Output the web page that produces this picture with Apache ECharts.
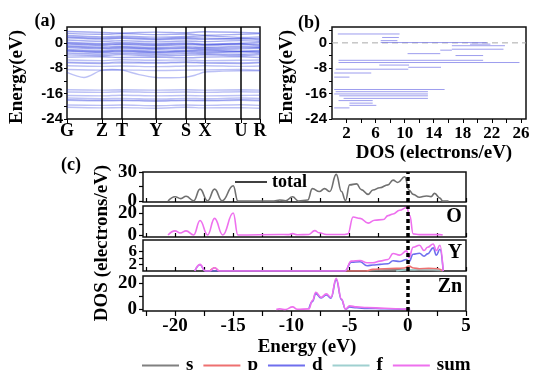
<!DOCTYPE html>
<html>
<head>
<meta charset="utf-8">
<script src="https://cdn.jsdelivr.net/npm/echarts@6/dist/echarts.min.js"></script>
<style>html,body{margin:0;padding:0;background:#fff}#chart{width:534px;height:370px}</style>
</head>
<body>
<div id="chart"></div>
<script>
var serif = 'Liberation Serif';
var sans = 'Liberation Sans';

// (a) band structure, energies at the high symmetry points
var kLabels = ['G', 'Z', 'T', 'Y', 'S', 'X', 'U', 'R'];
var kPos = [0, 35, 55, 89, 119, 138, 174, 193];
var kFine = [0, 17, 35, 45, 55, 72, 89, 104, 119, 128, 138, 156, 174, 183, 193];
var bands = [
  [3.6, 3.3, 3.1, 3.4, 3.2, 3.5, 3.3, 3.1],
  [3.0, 2.7, 2.9, 2.6, 2.8, 2.4, 2.7, 2.9],
  [2.3, 1.9, 2.1, 1.8, 2.0, 2.2, 1.7, 1.9],
  [1.6, 1.2, 1.4, 1.0, 1.3, 1.1, 1.4, 1.0],
  [0.9, 0.5, 0.7, 0.3, 0.6, 0.4, 0.7, 0.5],
  [0.2, -0.2, 0.1, -0.3, 0.0, -0.4, -0.1, 0.1],
  [-0.4, -0.8, -0.5, -0.9, -0.6, -0.7, -0.5, -0.9],
  [-0.9, -1.3, -1.1, -1.5, -1.2, -1.4, -1.1, -1.3],
  [-1.5, -1.9, -1.7, -2.0, -1.8, -2.1, -1.9, -1.7],
  [-2.1, -2.5, -2.2, -2.6, -2.4, -2.3, -2.6, -2.4],
  [-2.6, -3.0, -2.8, -3.1, -2.9, -3.1, -2.8, -3.0],
  [-3.2, -3.5, -3.3, -3.6, -3.4, -3.5, -3.6, -3.3],
  [-3.8, -4.0, -3.7, -4.1, -3.9, -3.8, -4.0, -3.7],
  [-4.5, -4.4, -4.6, -4.5, -4.7, -4.5, -4.4, -4.6],
  [-5.4, -5.6, -5.3, -5.5, -5.4, -5.6, -5.5, -5.4],
  [-6.3, -6.5, -6.3, -6.4, -6.2, -6.4, -6.5, -6.3],
  [-7.2, -7.4, -7.3, -7.5, -7.3, -7.2, -7.4, -7.3],
  [-8.4, -8.6, -8.5, -8.7, -8.6, -8.5, -8.4, -8.6],
  [-14.8, -14.9, -14.8, -14.9, -14.8, -14.9, -14.8, -14.9],
  [-15.5, -15.6, -15.4, -15.6, -15.5, -15.6, -15.4, -15.5],
  [-16.6, -16.7, -16.5, -16.7, -16.6, -16.7, -16.6, -16.5],
  [-17.4, -17.6, -17.5, -17.7, -17.5, -17.6, -17.4, -17.5],
  [-18.1, -18.3, -18.2, -18.4, -18.2, -18.3, -18.1, -18.3],
  [-19.6, -19.7, -19.6, -19.8, -19.6, -19.7, -19.5, -19.7],
  [-20.3, -20.5, -20.4, -20.6, -20.3, -20.5, -20.4, -20.6]
];
var bandsDense = [
  [1.9, 1.5, 1.7, 1.3, 1.6, 1.5, 1.2, 1.4],
  [-0.1, -0.5, -0.3, -0.6, -0.3, -0.6, -0.3, -0.5],
  [-1.2, -1.6, -1.4, -1.8, -1.5, -1.7, -1.5, -1.5],
  [-2.4, -2.8, -2.5, -2.9, -2.6, -2.7, -2.7, -2.7],
  [-6.1, -6.3, -6.0, -6.2, -6.0, -6.2, -6.3, -6.1],
  [-17.9, -18.1, -18.0, -18.2, -18.0, -18.1, -17.9, -18.0]
];
var bandsCurved = [
  [-9.3, -10.9, -8.6, -8.4, -8.6, -10.0, -10.9, -11.0, -10.8, -10.2, -9.2, -8.9, -8.8, -8.8, -8.8]
];

// (b) total DOS, drawn as horizontal strokes
var dosEnergy = [2.8, 1.7, 0.7, 0.1, -0.4, -0.9, -2.0, -2.3, -3.4, -4.0, -5.5, -6.2, -7.0, -7.7, -8.3, -9.5, -10.8, -14.7, -15.4, -16.1, -16.7, -17.5, -18.2, -19.0, -19.7, -20.5];
var dosFrom = [0.8, 6.9, 6.7, 6.7, 19.0, 16.5, 16.5, 14.9, 10.4, 17.0, 0.9, 0.9, 6.5, 10.5, 0.5, 0.3, 0.3, 0.3, 0.5, 0.3, 1.0, 1.6, 0.9, 2.4, 2.4, 0.3];
var dosTo = [9.3, 9.2, 9.0, 21.3, 21.8, 23.8, 23.6, 16.5, 14.9, 20.8, 20.8, 25.8, 10.6, 15.0, 10.5, 5.4, 2.4, 15.5, 13.2, 13.2, 13.2, 13.2, 5.6, 5.6, 6.1, 2.4];

// (c) partial DOS
var totalE = [-20.6, -20.0, -19.5, -19.05, -18.4, -17.85, -17.2, -16.6, -15.95, -15.0, -14.6, -11.5, -11.0, -10.5, -9.9, -9.4, -8.6, -8.2, -7.6, -7.15, -6.7, -6.15, -5.7, -5.35, -5.0, -4.4, -4.0, -3.4, -3.0, -2.4, -1.7, -1.27, -0.86, -0.26, 0.1, 0.46, 1.0, 1.6, 2.0, 2.3, 2.76, 3.0, 3.5];
var totalV = [0, 4.5, 2.5, 5, 0.3, 12.5, 0.2, 12.5, 0.2, 16, 0, 0, 1.0, 0.3, 4.5, 0, 1, 13, 10, 13, 10, 28, 10, 0.5, 17, 18, 12, 7, 11.5, 14, 17, 22, 19.5, 25.5, 11.5, 7, 4, 5.3, 4.6, 8, 3, 0, 0];

var oSumE = [-20.6, -20.0, -19.55, -19.05, -18.4, -17.85, -17.2, -16.6, -15.9, -15.0, -14.6, -11.0, -10.3, -9.9, -9.5, -8.5, -8.0, -7.6, -7.0, -5.5, -5.15, -4.7, -4.1, -3.4, -2.85, -2.1, -1.7, -1.27, -0.7, -0.1, 0.17, 0.46, 1.0, 2.76, 3.0];
var oSumV = [0, 3.8, 1.8, 3.8, 0, 13.5, 0, 15.5, 0, 20.5, 0, 0.5, 0.3, 1.2, 0.2, 0.5, 4, 2, 0.5, 0.5, 1, 16.8, 15.5, 11, 13.7, 14.4, 18, 19.6, 23, 25.6, 18, 1, 0.3, 0.3, 0];

var ySumE = [-18.3, -17.85, -17.4, -17.0, -16.6, -16.2, -5.4, -4.85, -4.1, -3.5, -3.0, -2.4, -1.7, -1.27, -0.7, -0.1, 0.1, 0.46, 1.0, 1.4, 1.7, 2.18, 2.45, 2.76, 3.04];
var ySumV = [0, 2.0, 0, 0, 1.0, 0, 0, 3.0, 3.2, 2.5, 2.5, 3.0, 3.5, 5.3, 4.8, 6.1, 4.0, 7.2, 7.8, 6.2, 7.2, 8.2, 6.2, 7.8, 0];
var yDE = [-18.3, -17.85, -17.4, -5.4, -4.85, -4.1, -3.5, -3.0, -2.4, -1.7, -1.27, -0.7, -0.1, 0.1, 0.46, 1.0, 1.4, 1.7, 2.18, 2.45, 2.76, 3.04];
var yDV = [0, 1.9, 0, 0, 2.7, 2.8, 1.6, 1.8, 2.0, 2.2, 3.1, 2.9, 3.5, 2.8, 5.1, 5.4, 4.5, 5.2, 7.0, 4.8, 6.6, 0];
var yPE = [-17.0, -16.6, -16.2, -3.6, -3.0, -2.0, -1.0, -0.3, 0.1, 0.5, 1.0, 1.8, 2.6, 3.0];
var yPV = [0, 1.0, 0, 0, 0.5, 0.7, 0.8, 0.9, 1.5, 0.9, 0.7, 0.8, 0.7, 0];
var ySE = [-3.5, -2.0, 0.0, 1.0, 3.0];
var ySV = [0, 0.3, 0.4, 0.3, 0];
var yFE = [-1.0, 0.3, 1.5, 2.8, 3.0];
var yFV = [0, 0.4, 0.5, 0.4, 0];

var znSumE = [-11.3, -11.0, -10.5, -9.9, -9.5, -8.5, -8.2, -7.9, -7.45, -7.0, -6.6, -6.15, -5.7, -5.35, -5.0, -4.4, -3.5, -2.0, -0.1, 0.2];
var znSumV = [0, 0.5, 0, 2, 0.2, 0.5, 6.7, 13, 9.2, 11.8, 9.2, 23.5, 8, 0.3, 2.8, 2, 1.5, 1, 0.3, 0];
var znDE = [-8.5, -8.2, -7.9, -7.45, -7.0, -6.6, -6.15, -5.7, -5.35, -5.0, -4.4, -3.5, -2.0, -0.1, 0.2];
var znDV = [0.4, 6.0, 12, 8.7, 11, 8.6, 22.5, 7.5, 0.2, 2.0, 1.3, 0.9, 0.6, 0.2, 0];

var colS = '#808080', colP = '#ee7070', colD = '#6f6fee', colF = '#9fd0d0', colSum = '#ee70ee';

function pairs(xs, ys) {
  return xs.map(function (x, i) { return [x, ys[i]]; });
}

var chart = echarts.init(document.getElementById('chart'));
var lbl = { fontFamily: serif, fontWeight: 'bold', fontSize: 19, color: '#000' };

var series = [];
// band lines
bands.concat(bandsDense, bandsCurved).forEach(function (b) {
  var ks = b.length === kPos.length ? kPos : kFine;
  var upper = b[0] > -5;
  series.push({
    type: 'line', xAxisIndex: 0, yAxisIndex: 0, data: pairs(ks, b),
    showSymbol: false, smooth: 0.3, silent: true,
    lineStyle: { color: '#2233dd', width: 1.4, opacity: upper ? 0.4 : 0.3 }
  });
});
series.push({
  type: 'line', xAxisIndex: 0, yAxisIndex: 0, data: [], silent: true,
  markLine: {
    symbol: 'none', silent: true, label: { show: false },
    lineStyle: { color: '#000', width: 1.5, type: 'solid' },
    data: kPos.slice(1, 7).map(function (v) { return { xAxis: v }; })
  }
});
// total DOS strokes
series.push({
  type: 'line', xAxisIndex: 1, yAxisIndex: 1, data: [[0, 0], [26.7, 0]],
  showSymbol: false, silent: true,
  lineStyle: { color: '#aaa', width: 1, type: [6, 4] }
});
dosEnergy.forEach(function (e, i) {
  series.push({
    type: 'line', xAxisIndex: 1, yAxisIndex: 1, silent: true, showSymbol: false,
    data: [[dosFrom[i], e], [dosTo[i], e]],
    lineStyle: { color: '#7c7ce8', width: 1, opacity: 0.75 }
  });
});

function pdos(name, g, xs, ys, color, z) {
  return {
    name: name, type: 'line', xAxisIndex: g, yAxisIndex: g, data: pairs(xs, ys),
    showSymbol: false, symbol: 'none', smooth: 0.45, smoothMonotone: 'x', silent: true, z: z || 2,
    lineStyle: { color: color, width: 1.6 }, itemStyle: { color: color }
  };
}
function zeroLine(g) {
  return {
    type: 'line', xAxisIndex: g, yAxisIndex: g, data: [], silent: true, z: 5,
    markLine: {
      symbol: 'none', silent: true, label: { show: false },
      lineStyle: { color: '#000', width: 3.5, type: [4, 3] },
      data: [{ xAxis: 0 }]
    }
  };
}
series.push(pdos('total', 2, totalE, totalV, '#707070'));
series.push(pdos('sum', 3, oSumE, oSumV, colSum));
series.push(pdos('s', 4, ySE, ySV, colS));
series.push(pdos('f', 4, yFE, yFV, colF));
series.push(pdos('p', 4, yPE, yPV, colP));
series.push(pdos('d', 4, yDE, yDV, colD));
series.push(pdos('sum', 4, ySumE, ySumV, colSum, 3));
series.push(pdos('d', 5, znDE, znDV, colD));
series.push(pdos('sum', 5, znSumE, znSumV, colSum, 3));
[2, 3, 4, 5].forEach(function (g) { series.push(zeroLine(g)); });

var gridBox = { show: true, borderColor: '#111', borderWidth: 1.5, containLabel: false };
var grids = [
  Object.assign({ left: 67, top: 27, width: 193, height: 92 }, gridBox),
  Object.assign({ left: 332, top: 27, width: 194, height: 92 }, gridBox),
  Object.assign({ left: 143, top: 172, width: 323, height: 30 }, gridBox),
  Object.assign({ left: 143, top: 206, width: 323, height: 31 }, gridBox),
  Object.assign({ left: 143, top: 240, width: 323, height: 31 }, gridBox),
  Object.assign({ left: 143, top: 276, width: 323, height: 35 }, gridBox)
];

var eTicks = [-24, -20, -16, -12, -8, -4, 0, 4];
var eLabels = [-24, -16, -8, 0];
var cTicks = [-22.5, -20, -17.5, -15, -12.5, -10, -7.5, -5, -2.5, 0, 2.5, 5];
var cLabels = [-20, -15, -10, -5, 0, 5];

function cX(g, last) {
  return {
    type: 'value', gridIndex: g, min: -22.75, max: 5,
    axisLine: { show: false, onZero: false }, splitLine: { show: false },
    axisTick: { show: true, inside: !last, length: last ? 5 : 4, customValues: cTicks, lineStyle: { color: '#000', width: 1.2 } },
    axisLabel: last ? Object.assign({ customValues: cLabels, margin: 6 }, lbl) : { show: false }
  };
}
function cY(g, min, max, ticks, labels) {
  return {
    type: 'value', gridIndex: g, min: min, max: max,
    axisLine: { show: false, onZero: false }, splitLine: { show: false },
    axisTick: { show: true, length: 4, customValues: ticks, lineStyle: { color: '#000', width: 1.2 } },
    axisLabel: Object.assign({}, lbl, { customValues: labels, margin: 6 })
  };
}
var ySubTicks = [2, 4, 6];
var ySubLabels = [2, 6];

var option = {
  animation: false,
  backgroundColor: '#fff',
  grid: grids,
  xAxis: [
    {
      type: 'value', gridIndex: 0, min: 0, max: 193,
      axisLine: { show: false, onZero: false }, splitLine: { show: false },
      axisTick: { show: true, length: 4, customValues: kPos, lineStyle: { color: '#000' } },
      axisLabel: {
        customValues: kPos, margin: 3, fontFamily: serif, fontWeight: 'bold', fontSize: 18, color: '#000',
        formatter: function (v) { return kLabels[kPos.indexOf(v)]; }
      }
    },
    {
      type: 'value', gridIndex: 1, min: 0, max: 26.7,
      axisLine: { show: false, onZero: false }, splitLine: { show: false },
      axisTick: { show: true, length: 4, customValues: [2, 4, 6, 8, 10, 12, 14, 16, 18, 20, 22, 24, 26], lineStyle: { color: '#000' } },
      axisLabel: { customValues: [2, 6, 10, 14, 18, 22, 26], margin: 6, fontFamily: serif, fontWeight: 'bold', fontSize: 17, color: '#000' }
    },
    cX(2, false), cX(3, false), cX(4, false), cX(5, true)
  ],
  yAxis: [
    {
      type: 'value', gridIndex: 0, min: -24, max: 5,
      axisLine: { show: false, onZero: false }, splitLine: { show: false },
      axisTick: { show: true, length: 3, customValues: eTicks, lineStyle: { color: '#000' } },
      axisLabel: { customValues: eLabels, margin: 4, fontFamily: sans, fontWeight: 'bold', fontSize: 15, color: '#000' }
    },
    {
      type: 'value', gridIndex: 1, min: -24, max: 5,
      axisLine: { show: false, onZero: false }, splitLine: { show: false },
      axisTick: { show: true, length: 3, customValues: eTicks, lineStyle: { color: '#000' } },
      axisLabel: { customValues: eLabels, margin: 5, fontFamily: sans, fontWeight: 'bold', fontSize: 15, color: '#000' }
    },
    cY(2, -1.05, 30.5, [0, 15, 30], [0, 30]),
    cY(3, -1.9, 27, [0, 10, 20], [0, 20]),
    {
      type: 'value', gridIndex: 4, min: 0, max: 9.4, interval: 2,
      axisLine: { show: false, onZero: false }, splitLine: { show: false },
      axisTick: { show: true, length: 4, customValues: ySubTicks, lineStyle: { color: '#000', width: 1.2 } },
      axisLabel: {
        margin: 6, fontFamily: serif, fontWeight: 'bold', fontSize: 17, lineHeight: 13, color: '#000',
        showMinLabel: false, showMaxLabel: false,
        formatter: function (v) { return ySubLabels.indexOf(v) >= 0 ? String(v) : ''; }
      }
    },
    cY(5, -1.1, 25.3, [0, 10, 20], [0, 20])
  ],
  legend: [
    {
      data: ['s', 'p', 'd', 'f', 'sum'], left: 142, top: 356, padding: 0,
      icon: 'rect', itemWidth: 37, itemHeight: 2, itemGap: 10, selectedMode: false,
      textStyle: { fontFamily: serif, fontWeight: 'bold', fontSize: 19, color: '#000', padding: [0, 0, 0, 2] }
    },
    {
      data: ['total'], left: 235, top: 173, padding: 0,
      icon: 'rect', itemWidth: 32, itemHeight: 1.5, selectedMode: false,
      itemStyle: { color: '#000' },
      textStyle: { fontFamily: serif, fontWeight: 'bold', fontSize: 18, color: '#000' }
    }
  ],
  graphic: [
    { type: 'text', x: 45, y: 21, style: { text: '(a)', font: 'bold 18px "Liberation Serif"', textAlign: 'center', textVerticalAlign: 'middle', fill: '#000' } },
    { type: 'text', x: 309, y: 23, style: { text: '(b)', font: 'bold 18px "Liberation Serif"', textAlign: 'center', textVerticalAlign: 'middle', fill: '#000' } },
    { type: 'text', x: 71, y: 165, style: { text: '(c)', font: 'bold 18px "Liberation Serif"', textAlign: 'center', textVerticalAlign: 'middle', fill: '#000' } },
    { type: 'text', x: 17, y: 77, rotation: Math.PI / 2, style: { text: 'Energy(eV)', font: 'bold 19px "Liberation Serif"', textAlign: 'center', textVerticalAlign: 'middle', fill: '#000' } },
    { type: 'text', x: 287, y: 77, rotation: Math.PI / 2, style: { text: 'Energy(eV)', font: 'bold 19px "Liberation Serif"', textAlign: 'center', textVerticalAlign: 'middle', fill: '#000' } },
    { type: 'text', x: 434, y: 153, style: { text: 'DOS (electrons/eV)', font: 'bold 19px "Liberation Serif"', textAlign: 'center', textVerticalAlign: 'middle', fill: '#000' } },
    { type: 'text', x: 102, y: 243, rotation: Math.PI / 2, style: { text: 'DOS (electrons/eV)', font: 'bold 19px "Liberation Serif"', textAlign: 'center', textVerticalAlign: 'middle', fill: '#000' } },
    { type: 'text', x: 307, y: 347, style: { text: 'Energy (eV)', font: 'bold 19px "Liberation Serif"', textAlign: 'center', textVerticalAlign: 'middle', fill: '#000' } },
    { type: 'text', x: 454, y: 217, style: { text: 'O', font: 'bold 20px "Liberation Serif"', textAlign: 'center', textVerticalAlign: 'middle', fill: '#000' } },
    { type: 'text', x: 455, y: 253, style: { text: 'Y', font: 'bold 20px "Liberation Serif"', textAlign: 'center', textVerticalAlign: 'middle', fill: '#000' } },
    { type: 'text', x: 450, y: 287, style: { text: 'Zn', font: 'bold 20px "Liberation Serif"', textAlign: 'center', textVerticalAlign: 'middle', fill: '#000' } }
  ],
  series: series
};
chart.setOption(option);
</script>
</body>
</html>
